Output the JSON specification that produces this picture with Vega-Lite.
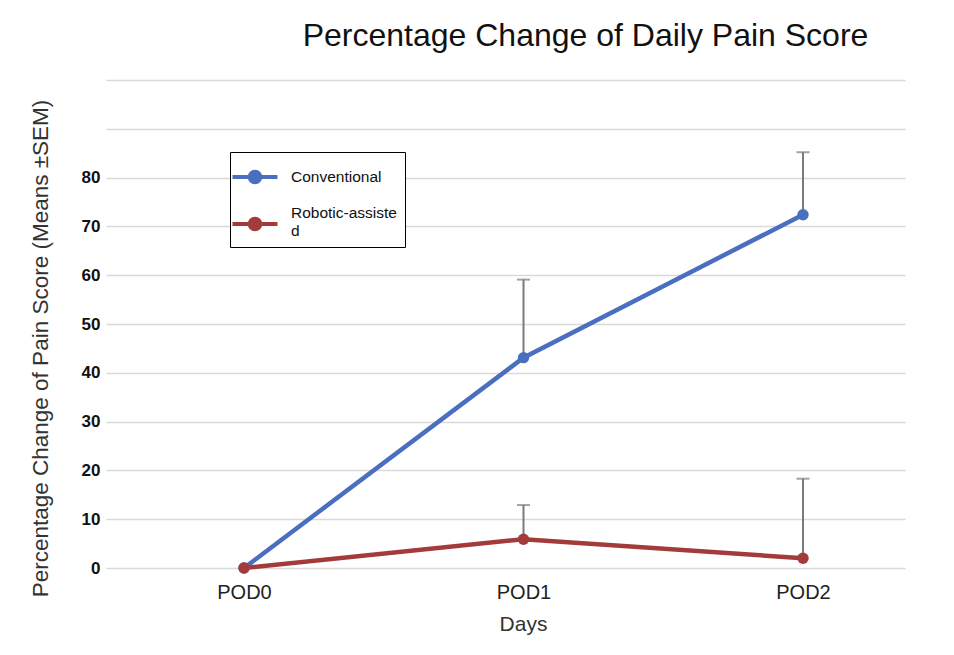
{
  "$schema": "https://vega.github.io/schema/vega-lite/v6.json",
  "autosize": {"type": "none"},
  "width": 799,
  "height": 488,
  "padding": {"left": 106, "top": 80, "right": 49, "bottom": 87},
  "background": "white",
  "config": {
    "view": {"stroke": null},
    "font": "Liberation Sans"
  },
  "title": {
    "text": "Percentage Change of Daily Pain Score",
    "fontSize": 32,
    "fontWeight": "normal",
    "color": "#111111",
    "anchor": "middle",
    "dx": 80,
    "offset": 27
  },
  "data": {
    "values": [
      {"day": "POD0", "group": "Conventional", "mean": 0, "upper": 0},
      {"day": "POD1", "group": "Conventional", "mean": 43.1, "upper": 59.1},
      {"day": "POD2", "group": "Conventional", "mean": 72.4, "upper": 85.2},
      {"day": "POD0", "group": "Robotic-assisted", "mean": 0, "upper": 0},
      {"day": "POD1", "group": "Robotic-assisted", "mean": 5.9, "upper": 12.9},
      {"day": "POD2", "group": "Robotic-assisted", "mean": 2.0, "upper": 18.3}
    ]
  },
  "encoding": {
    "x": {
      "field": "day",
      "type": "ordinal",
      "scale": {"type": "point", "padding": 0.4293, "align": 0.575},
      "axis": {
        "title": "Days",
        "labelAngle": 0,
        "labelFontSize": 20,
        "labelColor": "#222222",
        "labelPadding": 14,
        "ticks": false,
        "domain": false,
        "titleFontSize": 21,
        "titleFontWeight": "normal",
        "titleColor": "#333333",
        "titlePadding": 11,
        "titleX": 417
      }
    }
  },
  "layer": [
    {
      "transform": [{"filter": "datum.upper > datum.mean"}],
      "mark": {"type": "rule", "color": "#7a7a7a", "strokeWidth": 2},
      "encoding": {
        "y": {"field": "mean", "type": "quantitative"},
        "y2": {"field": "upper"}
      }
    },
    {
      "transform": [{"filter": "datum.upper > datum.mean"}],
      "mark": {"type": "tick", "orient": "horizontal", "color": "#7a7a7a", "thickness": 2, "size": 13},
      "encoding": {
        "y": {"field": "upper", "type": "quantitative"}
      }
    },
    {
      "mark": {"type": "line", "strokeWidth": 4.5, "point": {"size": 130, "filled": true, "opacity": 1}},
      "encoding": {
        "y": {
          "field": "mean",
          "type": "quantitative",
          "scale": {"domain": [0, 100], "nice": false},
          "axis": {
            "title": "Percentage Change of Pain Score (Means ±SEM)",
            "values": [0, 10, 20, 30, 40, 50, 60, 70, 80, 90, 100],
            "labelExpr": "datum.value > 80 ? '' : datum.label",
            "labelFontSize": 17,
            "labelFontWeight": "bold",
            "labelColor": "#111111",
            "labelPadding": 6,
            "ticks": false,
            "domain": false,
            "gridColor": "#d9d9d9",
            "gridWidth": 1.5,
            "titleFontSize": 22.5,
            "titleFontWeight": "normal",
            "titleColor": "#333333",
            "titlePadding": 29,
            "titleY": 268
          }
        },
        "color": {
          "field": "group",
          "type": "nominal",
          "scale": {"domain": ["Conventional", "Robotic-assisted"], "range": ["#4a6fc0", "#a33b3b"]},
          "legend": {
            "title": null,
            "orient": "none",
            "legendX": 124,
            "legendY": 72,
            "strokeColor": "#000000",
            "fillColor": "#ffffff",
            "padding": 8,
            "rowPadding": 15,
            "labelFontSize": 15.5,
            "labelColor": "#111111",
            "labelOffset": 19,
            "labelExpr": "datum.label == 'Robotic-assisted' ? ['Robotic-assiste\u00a0\u00a0\u00a0', 'd'] : datum.label",
            "symbolType": "M-1.5,0H1.5M-0.35,0a0.35,0.35 0 1,0 0.7,0a0.35,0.35 0 1,0 -0.7,0",
            "symbolSize": 900,
            "symbolStrokeWidth": 4,
            "encode": {
              "symbols": {
                "update": {
                  "fill": {"signal": "datum.value === 'Conventional' ? '#4a6fc0' : '#a33b3b'"}
                }
              },
              "labels": {
                "update": {
                  "dy": {"signal": "datum.value === 'Conventional' ? 0 : -11"}
                }
              }
            }
          }
        }
      }
    }
  ]
}
